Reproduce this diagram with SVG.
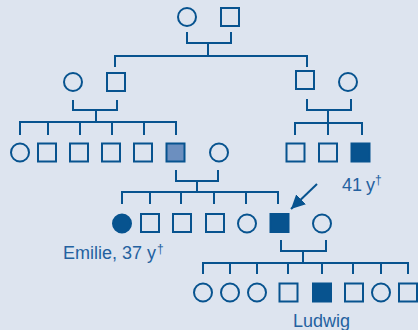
<svg xmlns="http://www.w3.org/2000/svg" width="418" height="330" viewBox="0 0 418 330">
<defs>
<style>
.bg{fill:#dde4ef}
.m{fill:none;stroke:#07538f;stroke-width:2}
.f{fill:#07538f;stroke:#07538f;stroke-width:2}
.g{fill:#6c8fbf;stroke:#07538f;stroke-width:2}
.c{fill:none;stroke:#07538f;stroke-width:2}
.t{font-family:"Liberation Sans",Arial,sans-serif;font-size:18px;fill:#2461a0}
.d{font-size:12px}
</style>
<marker id="ah" markerUnits="userSpaceOnUse" markerWidth="16" markerHeight="16" refX="14" refY="7" orient="auto">
<path d="M0,0 L14,7 L0,14 Z" fill="#07538f"/>
</marker>
</defs>
<rect class="bg" x="0" y="0" width="418" height="330"/>
<g id="connectors">
<path class="c" d="M187,32 V43 H231 V32"/>
<path class="c" d="M208,43 V56 M115,67 V56 H307 V67"/>
<path class="c" d="M73,100 V110 H117 V100"/>
<path class="c" d="M96,110 V122 M20,135 V122 H176 V135 M48,122 V135 M80,122 V135 M112,122 V135 M144,122 V135"/>
<path class="c" d="M307,99 V110 H351 V99"/>
<path class="c" d="M328,110 V135 M295,135 V123 H362 V135"/>
<path class="c" d="M176,170 V181 H218 V170"/>
<path class="c" d="M197,181 V192 M122,204 V192 H278 V204 M150,192 V204 M181,192 V204 M214,192 V204 M246,192 V204"/>
<path class="c" d="M281,240 V251 H326 V240"/>
<path class="c" d="M303,251 V263 M203,274 V263 H408 V274 M230,263 V274 M257,263 V274 M288,263 V274 M322,263 V274 M353,263 V274 M381,263 V274"/>
<path class="c" d="M317,184 L291,209" marker-end="url(#ah)"/>
</g>
<g id="I-1"><circle class="m" cx="187" cy="17" r="9"/></g>
<g id="I-2"><rect class="m" x="221" y="8" width="18" height="18"/></g>
<g id="II-1"><circle class="m" cx="73" cy="82" r="9"/></g>
<g id="II-2"><rect class="m" x="107" y="73" width="18" height="18"/></g>
<g id="II-3"><rect class="m" x="296" y="71" width="18" height="18"/></g>
<g id="II-4"><circle class="m" cx="348" cy="82" r="9"/></g>
<g id="III-1"><circle class="m" cx="20" cy="152.5" r="9"/></g>
<g id="III-2"><rect class="m" x="38" y="143.5" width="18" height="18"/></g>
<g id="III-3"><rect class="m" x="70" y="143.5" width="18" height="18"/></g>
<g id="III-4"><rect class="m" x="102" y="143.5" width="18" height="18"/></g>
<g id="III-5"><rect class="m" x="134" y="143.5" width="18" height="18"/></g>
<g id="III-6"><rect class="g" x="166.5" y="143.5" width="18" height="18"/></g>
<g id="III-7"><circle class="m" cx="219" cy="152.5" r="9"/></g>
<g id="III-8"><rect class="m" x="286.5" y="143.5" width="18" height="18"/></g>
<g id="III-9"><rect class="m" x="319" y="143.5" width="18" height="18"/></g>
<g id="III-10"><rect class="f" x="351.5" y="143.5" width="18" height="18"/>
<text class="t" x="342" y="191" word-spacing="-1">41 y<tspan class="d" dy="-7">†</tspan></text></g>
<g id="IV-1"><circle class="f" cx="122" cy="223.5" r="9"/>
<text class="t" x="63" y="259">Emilie, 37 y<tspan class="d" dx="1" dy="-6">†</tspan></text></g>
<g id="IV-2"><rect class="m" x="141" y="214" width="18" height="18"/></g>
<g id="IV-3"><rect class="m" x="173" y="214" width="18" height="18"/></g>
<g id="IV-4"><rect class="m" x="206" y="214" width="18" height="18"/></g>
<g id="IV-5"><circle class="m" cx="247" cy="223.5" r="9"/></g>
<g id="IV-6"><rect class="f" x="270.5" y="214" width="18" height="18"/></g>
<g id="IV-7"><circle class="m" cx="322" cy="223.5" r="9"/></g>
<g id="V-1"><circle class="m" cx="203" cy="292.5" r="9"/></g>
<g id="V-2"><circle class="m" cx="230" cy="292.5" r="9"/></g>
<g id="V-3"><circle class="m" cx="257" cy="292.5" r="9"/></g>
<g id="V-4"><rect class="m" x="279.5" y="283.5" width="18" height="18"/></g>
<g id="V-5"><rect class="f" x="313" y="283.5" width="18" height="18"/>
<text class="t" x="293" y="327">Ludwig</text></g>
<g id="V-6"><rect class="m" x="345" y="283.5" width="18" height="18"/></g>
<g id="V-7"><circle class="m" cx="381" cy="292.5" r="9"/></g>
<g id="V-8"><rect class="m" x="399" y="283.5" width="18" height="18"/></g>
</svg>
